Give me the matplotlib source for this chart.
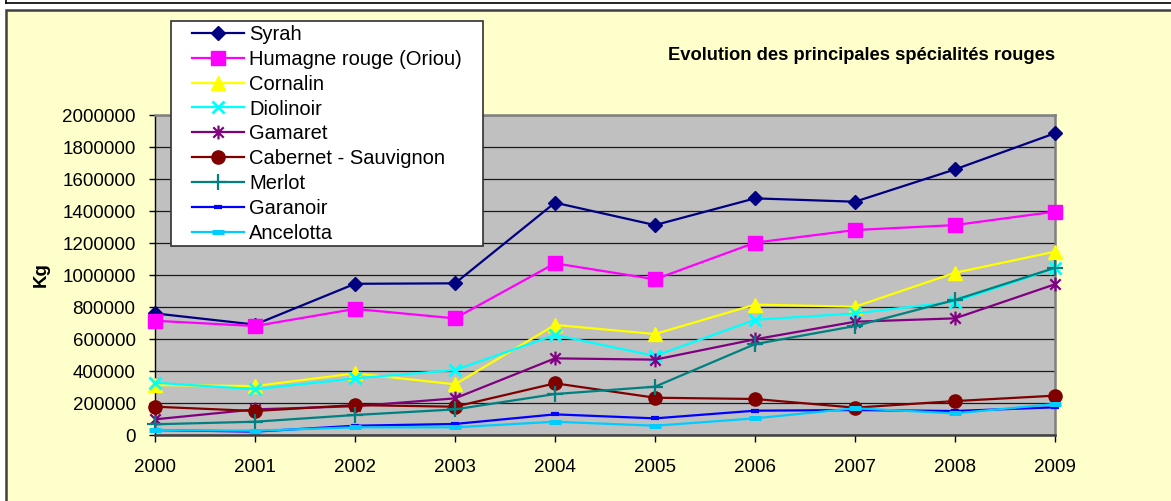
import matplotlib.pyplot as plt
from matplotlib.patches import Rectangle
from matplotlib.lines import Line2D
from matplotlib.path import Path

plt.rcParams['font.family'] = ['Liberation Sans', 'DejaVu Sans']

# données (kg)
years = ['2000', '2001', '2002', '2003', '2004', '2005', '2006', '2007', '2008', '2009']
syrah = [760000, 690000, 945000, 948000, 1452000, 1312000, 1479000, 1458000, 1660000, 1886000]
humagne = [714000, 681000, 788000, 729000, 1073000, 973000, 1202000, 1281000, 1312000, 1396000]
cornalin = [312000, 306000, 385000, 317000, 688000, 631000, 815000, 802000, 1014000, 1146000]
diolinoir = [327000, 286000, 354000, 406000, 625000, 494000, 720000, 760000, 833000, 1042000]
gamaret = [98000, 160000, 180000, 229000, 479000, 471000, 598000, 708000, 729000, 942000]
cabernet = [177000, 150000, 187000, 177000, 323000, 233000, 225000, 171000, 212000, 246000]
merlot = [67000, 83000, 125000, 160000, 256000, 302000, 568000, 681000, 844000, 1045000]
garanoir = [31000, 21000, 58000, 69000, 129000, 104000, 152000, 156000, 150000, 173000]
ancelotta = [31000, 27000, 48000, 48000, 83000, 58000, 104000, 167000, 135000, 194000]

labels = ['Syrah', 'Humagne rouge (Oriou)', 'Cornalin', 'Diolinoir', 'Gamaret',
          'Cabernet - Sauvignon', 'Merlot', 'Garanoir', 'Ancelotta']
series = [syrah, humagne, cornalin, diolinoir, gamaret, cabernet, merlot, garanoir, ancelotta]

# astérisque façon Excel : X + trait vertical
asterisk = Path([(0, -1), (0, 1), (-0.75, -0.75), (0.75, 0.75), (-0.75, 0.75), (0.75, -0.75)],
                [Path.MOVETO, Path.LINETO] * 3)

styles = [
    dict(color='#000080', marker='D', ms=7.5, mew=1),
    dict(color='#FF00FF', marker='s', ms=9.5, mew=1),
    dict(color='#FFFF00', marker='^', ms=10, mew=1),
    dict(color='#00FFFF', marker='x', ms=9, mew=2),
    dict(color='#800080', marker=asterisk, ms=10, mew=1.6),
    dict(color='#800000', marker='o', ms=9.5, mew=1),
    dict(color='#008080', marker='+', ms=11, mew=1.6),
    dict(color='#0000FF', marker='_', ms=6, mew=3),
    dict(color='#00CCFF', marker='_', ms=9, mew=3.6),
]

fig = plt.figure(figsize=(11.71, 5.01), dpi=100)
fig.patch.set_facecolor('white')

W, H = 1171, 501
# cadre jaune + trait du cadre supérieur
fig.patches.append(Rectangle((6 / W, -0.01), 1.1, 1 - 10 / H + 0.01, transform=fig.transFigure,
                             facecolor='#FFFFCC', edgecolor='#404040', lw=1.8, zorder=-10))
fig.lines.append(Line2D([6 / W, 1], [1 - 3 / H, 1 - 3 / H], transform=fig.transFigure,
                        color='black', lw=1.2, zorder=-10))
fig.lines.append(Line2D([6 / W, 6 / W], [1 - 3 / H, 1], transform=fig.transFigure,
                        color='black', lw=1.2, zorder=-10))

ax = fig.add_axes([155 / W, 1 - 435 / H, 900 / W, 320 / H])
ax.set_facecolor('#C0C0C0')

x = range(len(years))
for lab, vals, st in zip(labels, series, styles):
    ax.plot(x, vals, label=lab, color=st['color'], lw=1.6,
            marker=st['marker'], markersize=st['ms'], markeredgewidth=st['mew'],
            markerfacecolor=st['color'], markeredgecolor=st['color'],
            clip_on=False, zorder=3)

ax.set_xlim(0, 9)
ax.set_ylim(0, 2000000)
ax.set_xticks(list(x))
ax.set_xticklabels(years)
ax.set_yticks(range(0, 2000001, 200000))
ax.set_yticklabels([str(v) for v in range(0, 2000001, 200000)])
ax.yaxis.grid(True, color='#1a1a1a', lw=0.9)
ax.set_axisbelow(True)
ax.tick_params(axis='y', length=4, width=1, pad=10, labelsize=13.5, direction='out')
ax.tick_params(axis='x', length=5, width=1, pad=12, labelsize=13.5, direction='out')

for s in ['top', 'right']:
    ax.spines[s].set_color('#808080')
    ax.spines[s].set_linewidth(1.8)
ax.spines['left'].set_color('black')
ax.spines['left'].set_linewidth(1)
ax.spines['bottom'].set_color('#404040')
ax.spines['bottom'].set_linewidth(1.8)

fig.text(41 / W, 1 - 275 / H, 'Kg', rotation=90, ha='center', va='center',
         fontsize=13.5, fontweight='bold')
fig.text(862 / W, 1 - 55 / H, 'Evolution des principales spécialités rouges',
         ha='center', va='center', fontsize=13.2, fontweight='bold')

# boîte de légende (dessinée à part pour contrôler les marges)
fig.patches.append(Rectangle((171 / W, 1 - 246 / H), 312 / W, 225 / H, transform=fig.transFigure,
                             facecolor='white', edgecolor='#303030', lw=1.2, zorder=1))
handles, labs = ax.get_legend_handles_labels()
leg = fig.legend(handles, labs, loc='upper left', bbox_to_anchor=(192 / W, 1 - 25 / H),
                 bbox_transform=fig.transFigure, fontsize=14.5, frameon=False,
                 handlelength=2.6, handletextpad=0.25, labelspacing=0.29,
                 borderpad=0, borderaxespad=0)
leg.set_zorder(2)

fig.savefig('out.png', dpi=100)
